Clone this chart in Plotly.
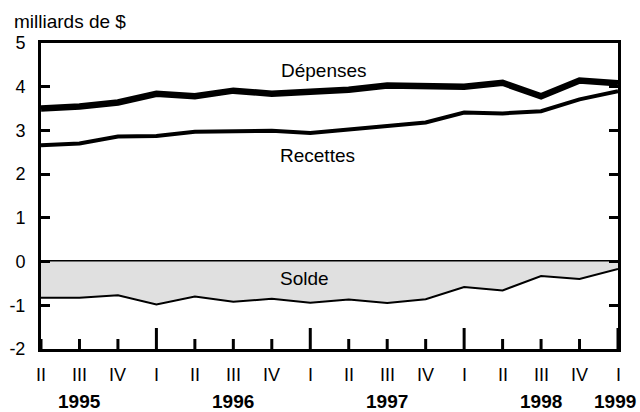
import plotly.graph_objects as go

quarters = ["II", "III", "IV", "I", "II", "III", "IV", "I", "II", "III", "IV", "I", "II", "III", "IV", "I"]
x = list(range(len(quarters)))
depenses = [3.50, 3.55, 3.64, 3.84, 3.78, 3.91, 3.84, 3.90, 3.93, 4.03, 4.03, 4.00, 4.09, 3.78, 4.14, 4.08]
recettes = [2.66, 2.70, 2.86, 2.87, 2.97, 2.97, 2.99, 2.94, 3.02, 3.08, 3.18, 3.41, 3.39, 3.44, 3.71, 3.90]
solde = [-0.83, -0.83, -0.77, -0.98, -0.80, -0.92, -0.85, -0.94, -0.87, -0.95, -0.86, -0.58, -0.66, -0.33, -0.40, -0.17]
years = ["1995", "1996", "1997", "1998", "1999"]
year_pos = [1, 5, 9, 13, 14.92]
yticks = [-2, -1, 0, 1, 2, 3, 4, 5]
yticktext = ["-2", "-1", "0", "1", "2", "3", "4", "5"]

FONT = "Liberation Sans, Arial, sans-serif"
PLOT_H = 412 - 43 - 63

fig = go.Figure()
fig.add_trace(go.Scatter(x=x, y=solde, mode="lines", fill="tozeroy",
                         fillcolor="#e0e0e0", line=dict(color="black", width=2)))
fig.add_trace(go.Scatter(x=x, y=recettes, mode="lines", line=dict(color="black", width=4)))
fig.add_trace(go.Scatter(x=x, y=depenses, mode="lines", line=dict(color="black", width=6.5)))

fig.update_layout(
    template="none",
    width=640, height=412,
    margin=dict(l=41, r=22, t=43, b=63),
    paper_bgcolor="white", plot_bgcolor="white",
    showlegend=False,
    font=dict(family=FONT, size=18, color="black"),
    xaxis=dict(range=[0, 15], showticklabels=False, ticks="",
               showline=True, linewidth=3, linecolor="black", mirror=True,
               showgrid=False, zeroline=False),
    yaxis=dict(range=[-2, 5], tickmode="array", tickvals=yticks, ticktext=yticktext,
               ticks="inside", ticklen=9, tickwidth=3, tickcolor="black",
               showline=True, linewidth=3, linecolor="black", mirror="ticks",
               showgrid=False, zeroline=True, zerolinecolor="black", zerolinewidth=3,
               ticklabelstandoff=9, tickfont=dict(size=18)),
)

# quarter ticks (longer at the start of each year) and labels
for q, pos in zip(quarters, x):
    tick_len = 21 if q == "I" else 10
    fig.add_shape(type="line", xref="x", yref="paper", x0=pos, x1=pos,
                  y0=0, y1=tick_len / PLOT_H, line=dict(color="black", width=3),
                  layer="above")
    fig.add_annotation(x=pos, y=(349 - 375) / PLOT_H, xref="x", yref="paper", text=q,
                       showarrow=False, xanchor="center", yanchor="middle",
                       font=dict(size=18, family=FONT))

for yr, pos in zip(years, year_pos):
    fig.add_annotation(x=pos, y=(349 - 401) / PLOT_H, xref="x", yref="paper",
                       text="<b>" + yr + "</b>", showarrow=False,
                       xanchor="center", yanchor="middle", font=dict(size=19, family=FONT))

fig.add_annotation(x=(12 - 41) / 577, y=(349 - 21) / PLOT_H, xref="paper", yref="paper",
                   text="milliards de $", showarrow=False, xanchor="left", yanchor="middle",
                   font=dict(size=19))
fig.add_annotation(x=7.35, y=4.37, text="Dépenses", showarrow=False, font=dict(size=19))
fig.add_annotation(x=7.2, y=2.42, text="Recettes", showarrow=False, font=dict(size=19))
fig.add_annotation(x=6.86, y=-0.39, text="Solde", showarrow=False, font=dict(size=19))

fig.write_html("out.html", config={"displayModeBar": False},
               post_script="document.body.style.margin='0';")
